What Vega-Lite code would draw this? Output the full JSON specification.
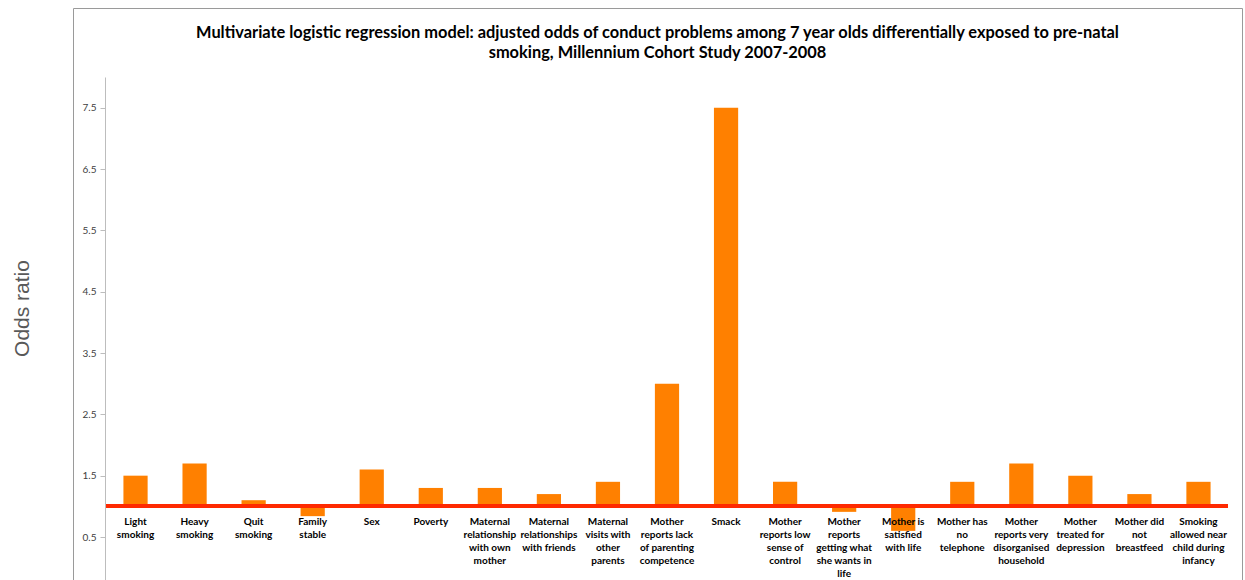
{
  "$schema": "https://vega.github.io/schema/vega-lite/v6.json",
  "width": 1169,
  "height": 572,
  "autosize": {"type": "none"},
  "padding": {"left": 73, "top": 8, "right": 3, "bottom": 0},
  "background": "white",
  "config": {
    "view": {"stroke": "#9a9a9a", "strokeWidth": 1},
    "font": "Lato"
  },
  "title": {
    "text": [
      "Multivariate logistic regression model: adjusted odds of conduct problems among 7 year olds differentially exposed to pre-natal",
      "smoking, Millennium Cohort Study 2007-2008"
    ],
    "font": "Lato",
    "fontSize": 16.4,
    "fontWeight": "bold",
    "color": "#000000",
    "anchor": "middle",
    "offset": -53,
    "lineHeight": 20
  },
  "data": {
    "values": [
      {"factor": "Light\nsmoking", "odds": 1.5},
      {"factor": "Heavy\nsmoking", "odds": 1.7},
      {"factor": "Quit\nsmoking", "odds": 1.1},
      {"factor": "Family\nstable", "odds": 0.84},
      {"factor": "Sex", "odds": 1.6},
      {"factor": "Poverty", "odds": 1.3},
      {"factor": "Maternal\nrelationship\nwith own\nmother", "odds": 1.3},
      {"factor": "Maternal\nrelationships\nwith friends", "odds": 1.2},
      {"factor": "Maternal\nvisits with\nother\nparents", "odds": 1.4},
      {"factor": "Mother\nreports lack\nof parenting\ncompetence", "odds": 3.0},
      {"factor": "Smack", "odds": 7.5},
      {"factor": "Mother\nreports low\nsense of\ncontrol", "odds": 1.4},
      {"factor": "Mother\nreports\ngetting what\nshe wants in\nlife", "odds": 0.91},
      {"factor": "Mother is\nsatisfied\nwith life", "odds": 0.6},
      {"factor": "Mother has\nno\ntelephone", "odds": 1.4},
      {"factor": "Mother\nreports very\ndisorganised\nhousehold", "odds": 1.7},
      {"factor": "Mother\ntreated for\ndepression", "odds": 1.5},
      {"factor": "Mother did\nnot\nbreastfeed", "odds": 1.2},
      {"factor": "Smoking\nallowed near\nchild during\ninfancy", "odds": 1.4}
    ]
  },
  "layer": [
    {
      "mark": {"type": "bar", "color": "#ff8000"},
      "encoding": {
        "x": {
          "field": "factor",
          "type": "nominal",
          "sort": null,
          "scale": {"range": [33, 1155], "paddingInner": 0.59, "paddingOuter": 0.295},
          "axis": null
        },
        "y": {
          "field": "odds",
          "type": "quantitative",
          "scale": {"domain": [-0.201, 8], "range": [572, 69], "nice": false, "zero": false},
          "axis": {
            "values": [0.5, 1.5, 2.5, 3.5, 4.5, 5.5, 6.5, 7.5],
            "format": ".1f",
            "offset": -32,
            "grid": false,
            "domainColor": "#bdbdbd",
            "tickColor": "#bdbdbd",
            "tickSize": 5,
            "labelFont": "Lato",
            "labelFontSize": 10,
            "labelColor": "#404040",
            "labelPadding": 4,
            "title": "Odds ratio",
            "titleFont": "Liberation Sans",
            "titleFontSize": 21,
            "titleFontWeight": "normal",
            "titleColor": "#595959",
            "titleAngle": -90,
            "titleAlign": "center",
            "titleBaseline": "middle",
            "titleX": -83,
            "titleY": 300
          }
        },
        "y2": {"datum": 1}
      }
    },
    {
      "mark": {"type": "rule", "color": "#ff2a00", "strokeWidth": 3},
      "encoding": {
        "x": {
          "datum": 0,
          "type": "quantitative",
          "scale": {"domain": [0, 1], "range": [33, 1155]},
          "axis": null
        },
        "x2": {"datum": 1},
        "y": {"datum": 1, "type": "quantitative"}
      }
    },
    {
      "mark": {
        "type": "text",
        "lineBreak": "\n",
        "baseline": "top",
        "align": "center",
        "dy": 11,
        "font": "Lato",
        "fontSize": 10,
        "fontWeight": "bold",
        "lineHeight": 12.9,
        "color": "#000000"
      },
      "encoding": {
        "x": {
          "field": "factor",
          "type": "nominal",
          "sort": null,
          "scale": {"range": [33, 1155], "paddingInner": 0.59, "paddingOuter": 0.295},
          "axis": null
        },
        "y": {"datum": 1, "type": "quantitative"},
        "text": {"field": "factor"}
      }
    }
  ],
  "resolve": {"scale": {"x": "independent"}}
}
